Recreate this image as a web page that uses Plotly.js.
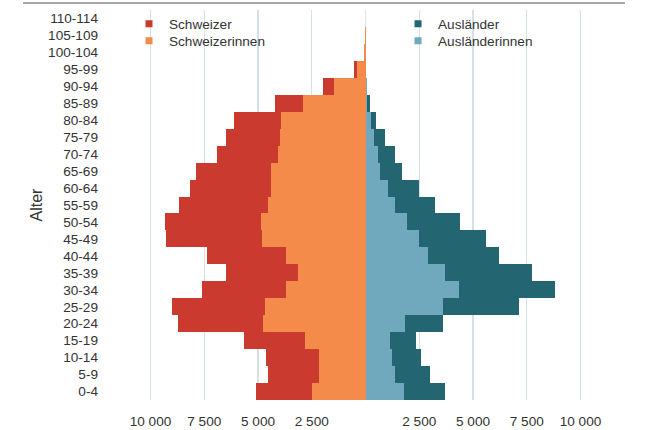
<!DOCTYPE html>
<html>
<head>
<meta charset="utf-8">
<script src="https://cdn.plot.ly/plotly-3.0.1.min.js"></script>
<style>html,body{margin:0;padding:0;background:#fff}#chart{width:649px;height:430px}</style>
</head>
<body>
<div id="chart"></div>
<script>
// Age groups, bottom to top
const categories = ['0-4','5-9','10-14','15-19','20-24','25-29','30-34','35-39','40-44','45-49','50-54','55-59','60-64','65-69','70-74','75-79','80-84','85-89','90-94','95-99','100-104','105-109','110-114'];

// Swiss (left side, stacked: women next to centre, men outside)
const schweizerinnen = [2490,2160,2160,2810,4770,4670,3700,3140,3700,4810,4860,4530,4400,4400,4070,3980,3930,2910,1470,390,70,10,0];
const schweizer      = [2600,2370,2470,2840,3950,4330,3900,3350,3670,4470,4470,4140,3770,3490,2840,2510,2190,1300,510,140,0,0,0];

// Foreigners (right side, stacked: women next to centre, men outside)
const auslaenderinnen = [1790,1370,1230,1140,1840,3600,4350,3700,2910,2490,1930,1370,1050,670,580,400,260,90,50,10,0,0,0];
const auslaender      = [1910,1630,1350,1210,1770,3540,4470,4050,3300,3120,2470,1860,1440,1020,790,510,230,120,0,0,0,0,0];

const tickVals = [-10000,-7500,-5000,-2500,2500,5000,7500,10000];
const tickText = ['10 000','7 500','5 000','2 500','2 500','5 000','7 500','10 000'];

const colors = {
  schweizer: '#cb3a2e',
  schweizerinnen: '#f58b4a',
  auslaender: '#236571',
  auslaenderinnen: '#70a9bd'
};

const barBase = {type:'bar', orientation:'h', y:categories, showlegend:false};

function key(name, legendId, color) {
  return {type:'scatter', mode:'markers', x:[null], y:[null], name:name, legend:legendId,
          marker:{symbol:'square', size:7, color:color}, hoverinfo:'skip'};
}

const data = [
  Object.assign({}, barBase, {name:'Schweizerinnen', x:schweizerinnen.map(v=>-v), marker:{color:colors.schweizerinnen, line:{width:0}}}),
  Object.assign({}, barBase, {name:'Schweizer', x:schweizer.map(v=>-v), marker:{color:colors.schweizer, line:{width:0}}}),
  Object.assign({}, barBase, {name:'Ausländerinnen', x:auslaenderinnen, marker:{color:colors.auslaenderinnen, line:{width:0}}}),
  Object.assign({}, barBase, {name:'Ausländer', x:auslaender, marker:{color:colors.auslaender, line:{width:0}}}),
  key('Schweizer', 'legend', colors.schweizer),
  key('Schweizerinnen', 'legend2', colors.schweizerinnen),
  key('Ausländer', 'legend3', colors.auslaender),
  key('Ausländerinnen', 'legend4', colors.auslaenderinnen)
];

const fontFam = 'Liberation Sans, Arial, sans-serif';
const legFont = {size:13.6, color:'#333', family:fontFam};
function leg(xpx, ypx) {
  return {x:(xpx-102)/523, xanchor:'left', y:(400-ypx)/392, yanchor:'middle',
          bgcolor:'rgba(0,0,0,0)', font:legFont, itemwidth:30};
}

const layout = {
  width:649, height:430,
  margin:{l:102, r:24, t:8, b:30},
  paper_bgcolor:'#fff', plot_bgcolor:'#fff',
  font:{family:fontFam, size:13.6, color:'#333'},
  barmode:'relative', bargap:0,
  xaxis:{
    range:[-12256, 12070],
    tickvals:tickVals, ticktext:tickText,
    showgrid:true, gridcolor:'#d3e0e5', gridwidth:1.3,
    zeroline:true, zerolinecolor:'#dde5e8', zerolinewidth:1.3,
    ticks:'', showline:false, fixedrange:true,
    ticklabelstandoff:11,
    tickfont:{size:13.6, color:'#333'}
  },
  yaxis:{
    type:'category', categoryorder:'array', categoryarray:categories,
    range:[-0.5, 22.5],
    showgrid:false, zeroline:false, ticks:'', showline:false,
    ticklabelstandoff:3,
    tickfont:{size:13.6, color:'#333'},
    title:{text:'Alter', font:{size:16, color:'#333'}, standoff:1}
  },
  legend: leg(129, 22),
  legend2: leg(129, 39),
  legend3: leg(398, 22),
  legend4: leg(398, 39),
  shapes:[
    {type:'line', xref:'paper', yref:'paper', x0:(23-102)/523, x1:1, y0:(400-1)/392, y1:(400-1)/392, line:{color:'#a6a6a6', width:2}}
  ]
};

Plotly.newPlot('chart', data, layout, {displayModeBar:false, staticPlot:true});
</script>
</body>
</html>
